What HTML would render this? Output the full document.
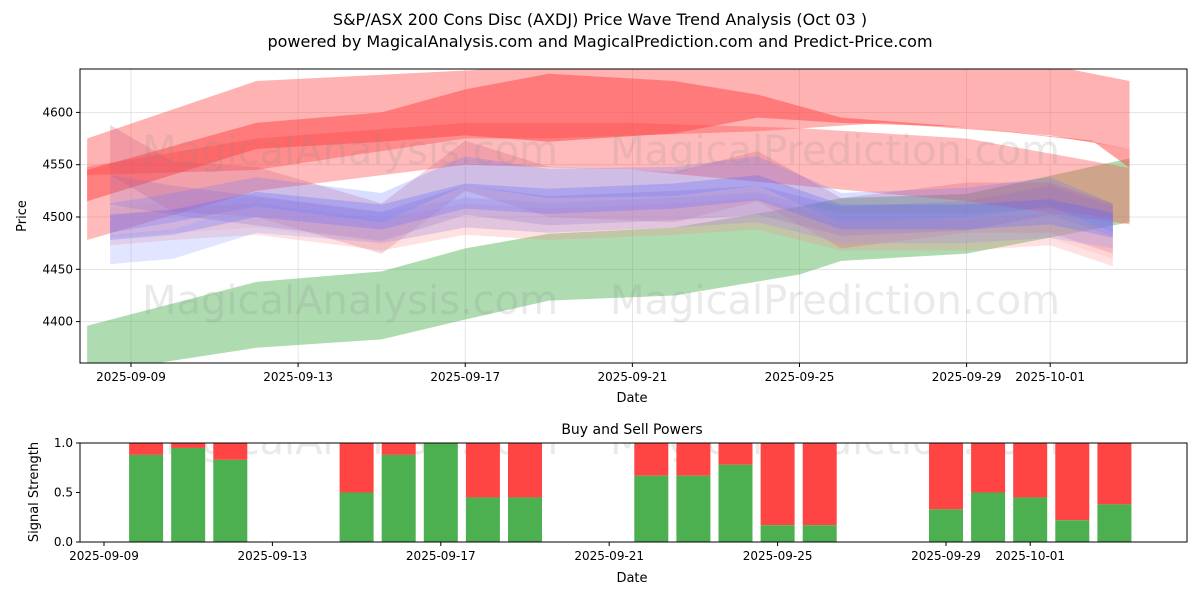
<!DOCTYPE html>
<html><head><meta charset="utf-8">
<style>
body{margin:0;background:#fff;font-family:"Liberation Sans","DejaVu Sans",sans-serif;}
svg text{font-family:"DejaVu Sans","Liberation Sans",sans-serif;}
</style></head>
<body>
<svg id="chart" width="1200" height="600" xmlns="http://www.w3.org/2000/svg">
<rect width="1200" height="600" fill="#fff"/>
<text x="600" y="25" text-anchor="middle" font-size="16" fill="#000">S&amp;P/ASX 200 Cons Disc (AXDJ) Price Wave Trend Analysis (Oct 03 )</text>
<text x="600" y="47" text-anchor="middle" font-size="16" fill="#000">powered by MagicalAnalysis.com and MagicalPrediction.com and Predict-Price.com</text>
<g id="topPanel"></g>
<g id="botPanel"></g>
</svg>
<script>
// ---- price panel data (days relative to 2025-09-09) ----
const priceTicks = [4400, 4450, 4500, 4550, 4600];
const topDateTicks = [0, 4, 8, 12, 16, 20, 22];
const topDateLabels = ["2025-09-09","2025-09-13","2025-09-17","2025-09-21","2025-09-25","2025-09-29","2025-10-01"];
const greenDays  = [-1.05, 3, 6, 8, 10, 13, 16, 17, 20, 23.9];
const greenUpper = [4396, 4438, 4448, 4470, 4484, 4490, 4510, 4518, 4522, 4556];
const greenLower = [4350, 4375, 4383, 4402, 4420, 4425, 4445, 4458, 4465, 4495];
const lightRedDays  = [-1.05, 3, 8, 10, 15, 18, 22, 23.9];
const lightRedUpper = [4575, 4630, 4640, 4645, 4645, 4645, 4645, 4630];
const lightRedLower = [4540, 4545, 4575, 4575, 4582, 4590, 4578, 4565];
const lightRed2Days  = [-1.05, 3, 8, 12, 16, 20, 23.9];
const lightRed2Upper = [4548, 4575, 4590, 4590, 4585, 4575, 4547];
const lightRed2Lower = [4478, 4525, 4550, 4545, 4530, 4515, 4493];
const redDays  = [-1.05, 3, 6, 8, 10, 13, 15, 17, 20, 23, 23.9];
const redUpper = [4545, 4590, 4600, 4622, 4637, 4630, 4617, 4595, 4586, 4573, 4547];
const redLower = [4515, 4565, 4572, 4578, 4572, 4580, 4595, 4590, 4586, 4572, 4565];
const waveDays = [-0.5, 1, 3, 6, 8, 10, 13, 15, 17, 20, 22, 23.5];
const blueMid1 = [4495, 4505, 4520, 4505, 4540, 4528, 4530, 4540, 4505, 4510, 4520, 4495];
const blueMid2 = [4490, 4495, 4512, 4500, 4520, 4515, 4520, 4528, 4500, 4500, 4505, 4492];
const blueMid3 = [4475, 4480, 4505, 4495, 4510, 4505, 4510, 4515, 4495, 4495, 4500, 4490];
const purpleMid = [4530, 4520, 4510, 4495, 4520, 4510, 4515, 4520, 4500, 4505, 4520, 4500];
const pinkMid  = [4495, 4500, 4505, 4490, 4505, 4500, 4505, 4510, 4490, 4490, 4495, 4475];
const purpleTop = [4580, 4545, 4540, 4505, 4565, 4540, 4535, 4555, 4510, 4525, 4525, 4505];
// ---- signal panel data ----
const barDays  = [1,2,3,6,7,8,9,10,13,14,15,16,17,20,21,22,23,24];
const buyPower = [0.88,0.95,0.83,0.5,0.88,1.0,0.45,0.45,0.67,0.67,0.78,0.17,0.17,0.33,0.5,0.45,0.22,0.38];
const sigTicks = [0, 0.5, 1.0];
const botDateTicks = [0,4,8,12,16,20,22];

const NS="http://www.w3.org/2000/svg";
function mk(tag, attrs, parent){const e=document.createElementNS(NS,tag);for(const k in attrs)e.setAttribute(k,attrs[k]);parent.appendChild(e);return e;}
const topG=document.getElementById('topPanel'), botG=document.getElementById('botPanel');
const TX0=80,TX1=1187,TY0=69,TY1=363;
const tx=d=>131+d*41.78;
const ty=p=>217-(p-4500)*1.046;
const defs=mk('defs',{},topG);
const cp=mk('clipPath',{id:'tc'},defs);mk('rect',{x:TX0,y:TY0,width:TX1-TX0,height:TY1-TY0},cp);
const cp2=mk('clipPath',{id:'bc'},defs);mk('rect',{x:80,y:443,width:1107,height:99},cp2);
priceTicks.forEach(p=>{const l=mk('line',{x1:TX0,x2:TX1,y1:ty(p),y2:ty(p),stroke:'#ddd','stroke-width':0.8},topG);

});
topDateTicks.forEach(d=>{const l=mk('line',{x1:tx(d),x2:tx(d),y1:TY0,y2:TY1,stroke:'#ddd','stroke-width':0.8},topG);

});
const g=mk('g',{'clip-path':'url(#tc)'},topG);
function band(days,up,lo,color,op,name){
  let d='M'+days.map((x,i)=>tx(x)+','+ty(up[i])).join('L');
  d+='L'+days.map((x,i)=>tx(x)+','+ty(lo[i])).reverse().join('L')+'Z';
  const p=mk('path',{d:d,fill:color,'fill-opacity':op},g);
  
  
}
band(greenDays,greenUpper,greenLower,'#4caf50',0.45,'green-wave-band');
band(lightRedDays,lightRedUpper,lightRedLower,'#ff5555',0.45,'light-red-wave-band');
band(lightRed2Days,lightRed2Upper,lightRed2Lower,'#ff5555',0.4,'light-red-wave-band-2');
band(redDays,redUpper,redLower,'#ff4444',0.5,'red-wave-band');
function off(arr,v){return arr.map(a=>a+v);}
band(waveDays,off(purpleTop,8),off(purpleTop,-40),'#cc5577',0.25,'purple-wave-band-upper');
band(waveDays,off(pinkMid,8),off(pinkMid,-22),'#ff8888',0.25,'pink-wave-band');
band(waveDays,off(pinkMid,14),off(pinkMid,-15),'#ff9999',0.2,'pink-wave-band-2');
band(waveDays,off(purpleMid,10),off(purpleMid,-18),'#9966bb',0.25,'purple-wave-band');
band(waveDays,off(blueMid1,18),off(blueMid1,-10),'#6677ff',0.25,'blue-wave-band-1');
band(waveDays,off(blueMid2,12),off(blueMid2,-12),'#5566ff',0.28,'blue-wave-band-2');
band(waveDays,off(blueMid3,8),off(blueMid3,-20),'#8899ff',0.25,'blue-wave-band-3');
[[350,150],[835,150],[350,300],[835,300]].forEach((p,i)=>{const w=mk('text',{x:p[0],y:p[1]+14,'text-anchor':'middle','font-size':40,fill:'#888','fill-opacity':0.18},topG);
w.textContent=i%2?'MagicalPrediction.com':'MagicalAnalysis.com';

});
mk('rect',{x:TX0,y:TY0,width:TX1-TX0,height:TY1-TY0,fill:'none',stroke:'#000','stroke-width':1},topG);
priceTicks.forEach(p=>{mk('line',{x1:TX0-4,x2:TX0,y1:ty(p),y2:ty(p),stroke:'#000'},topG);
const s=mk('text',{x:TX0-7,y:ty(p)+4,'text-anchor':'end','font-size':12},topG);s.textContent=p;

});
topDateTicks.forEach((d,i)=>{mk('line',{x1:tx(d),x2:tx(d),y1:TY1,y2:TY1+4,stroke:'#000'},topG);
const s=mk('text',{x:tx(d),y:TY1+18,'text-anchor':'middle','font-size':12},topG);s.textContent=topDateLabels[i];

});
let lab=mk('text',{x:632,y:402,'text-anchor':'middle','font-size':13},topG);lab.textContent='Date';


lab=mk('text',{x:26,y:216,'text-anchor':'middle','font-size':13,transform:'rotate(-90 26 216)'},topG);lab.textContent='Price';


const bx=d=>104+d*42.1;
const by=v=>542-v*99;
const bg=mk('g',{'clip-path':'url(#bc)'},botG);
[[350,440],[835,440]].forEach((p,i)=>{const w=mk('text',{x:p[0],y:p[1]+14,'text-anchor':'middle','font-size':40,fill:'#888','fill-opacity':0.18},bg);
w.textContent=i?'MagicalPrediction.com':'MagicalAnalysis.com';

});
barDays.forEach((d,i)=>{
  const r=mk('rect',{x:bx(d)-17,y:by(1),width:34,height:by(buyPower[i])-by(1),fill:'#ff4444'},bg);
  
  
  const gr=mk('rect',{x:bx(d)-17,y:by(buyPower[i]),width:34,height:by(0)-by(buyPower[i]),fill:'#4caf50'},bg);
  
  
});
mk('rect',{x:80,y:443,width:1107,height:99,fill:'none',stroke:'#000'},botG);
sigTicks.forEach(v=>{mk('line',{x1:76,x2:80,y1:by(v),y2:by(v),stroke:'#000'},botG);
const s=mk('text',{x:73,y:by(v)+4,'text-anchor':'end','font-size':12},botG);s.textContent=v.toFixed(1);

});
botDateTicks.forEach((d,i)=>{mk('line',{x1:bx(d),x2:bx(d),y1:542,y2:546,stroke:'#000'},botG);
const s=mk('text',{x:bx(d),y:560,'text-anchor':'middle','font-size':12},botG);s.textContent=topDateLabels[i];

});
lab=mk('text',{x:632,y:434,'text-anchor':'middle','font-size':14},botG);lab.textContent='Buy and Sell Powers';


lab=mk('text',{x:632,y:582,'text-anchor':'middle','font-size':13},botG);lab.textContent='Date';


lab=mk('text',{x:38,y:492,'text-anchor':'middle','font-size':13,transform:'rotate(-90 38 492)'},botG);lab.textContent='Signal Strength';


</script>
</body></html>
